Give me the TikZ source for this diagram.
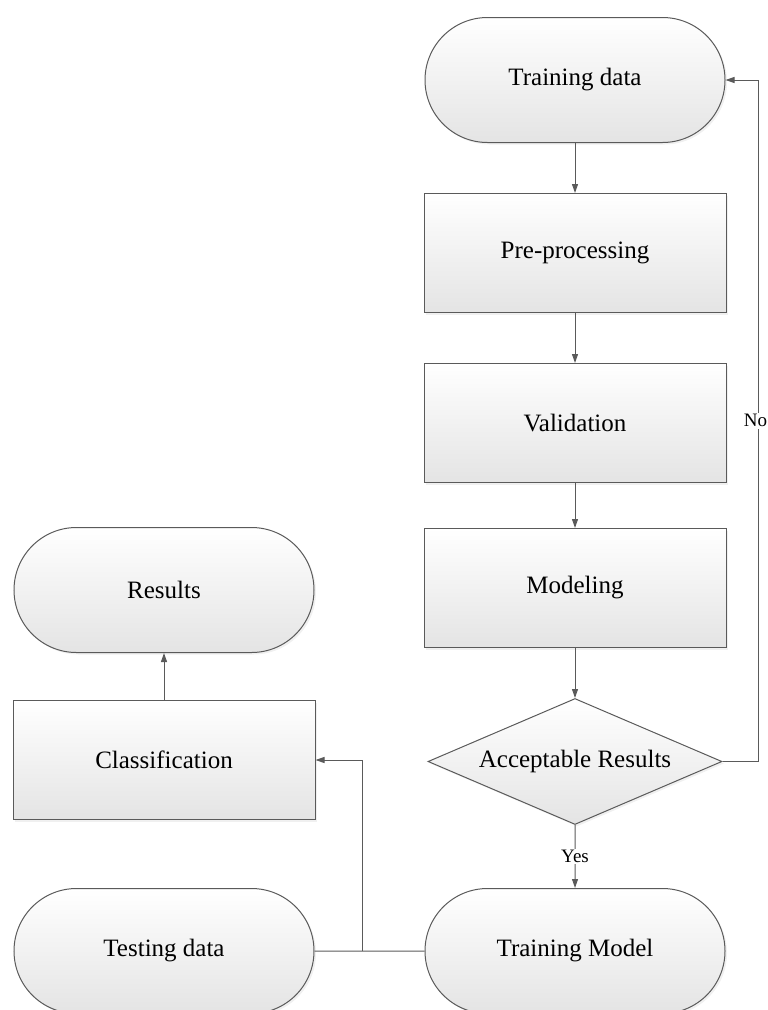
\documentclass[tikz,border=0pt]{standalone}
\usepackage{fontspec}
\setmainfont{Liberation Serif}
\usetikzlibrary{positioning, arrows.meta, calc, shapes.geometric, shapes.misc, shadows}
\definecolor{linegray}{RGB}{90,90,90}
\definecolor{shadebot}{RGB}{228,228,228}
\tikzset{
  base/.style={
    draw=linegray, line width=1pt, top color=white, bottom color=shadebot,
    font=\fontsize{25}{30}\selectfont, inner sep=0pt,
    drop shadow={opacity=0.12, shadow xshift=2pt, shadow yshift=-2pt}
  },
  terminal/.style={base, rounded rectangle, minimum width=300pt, minimum height=125pt},
  process/.style={base, rectangle, minimum width=302pt, minimum height=119pt},
  decision/.style={base, diamond, aspect=2.33, minimum width=294pt, minimum height=126pt},
  wire/.style={draw=linegray, line width=1pt},
  flow/.style={wire, -{Triangle[length=9pt,width=6pt]}},
  flowlabel/.style={fill=white, font=\fontsize{19}{22}\selectfont, inner sep=1.5pt},
}

\begin{document}
\begin{tikzpicture}[x=1pt, y=1pt, node distance=50pt]
  \useasboundingbox (0,0) rectangle (768,-1010);

  % training branch
  \node[terminal] (TD) at (575,-80) {Training data};
  \node[process, below=of TD] (PP) {Pre-processing};
  \node[process, below=of PP] (Val) {Validation};
  \node[process, below=45pt of Val] (Mod) {Modeling};
  \node[decision, below=of Mod] (AR) {Acceptable Results};
  \node[terminal, below=63pt of AR] (TM) {Training Model};

  % testing branch
  \node[terminal, left=110pt of TM] (TeD) {Testing data};
  \node[process] (Cl) at (164,-760) {Classification};
  \node[terminal, above=47pt of Cl] (Res) {Results};

  \coordinate (turn) at ($(AR.east)+(36pt,0)$);
  \coordinate (split) at ($(TeD.east)!0.44!(TM.west)$);

  \path (TD) edge[flow] (PP)
        (PP) edge[flow] (Val)
        (Val) edge[flow] (Mod)
        (Mod) edge[flow] (AR)
        (Cl) edge[flow] (Res);
  \draw[flow] (AR) -- node[flowlabel]{Yes} (TM);
  \draw[flow] (AR.east) -- (turn) |- node[flowlabel, pos=0.25, xshift=-3pt]{No} (TD.east);
  \draw[wire] (TeD) -- (TM);
  \draw[flow] (split) |- (Cl.east);
\end{tikzpicture}
\end{document}
